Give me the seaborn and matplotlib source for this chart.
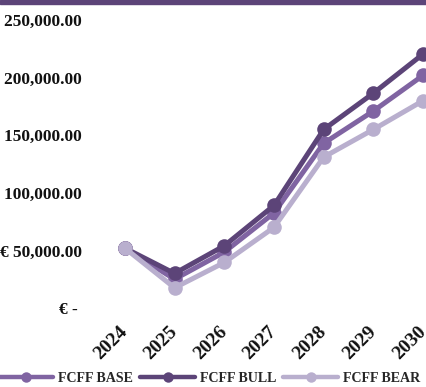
import matplotlib
matplotlib.use("Agg")
import matplotlib.pyplot as plt
import seaborn as sns
import pandas as pd
from matplotlib.lines import Line2D
from matplotlib.patches import Rectangle
from matplotlib.ticker import FuncFormatter

# Free cash flow to firm by scenario (EUR)
years = ["2024", "2025", "2026", "2027", "2028", "2029", "2030"]
fcff_base = [52000, 25000, 48500, 82500, 143000, 171000, 202000]
fcff_bull = [52000, 30000, 54000, 89000, 155000, 186500, 220500]
fcff_bear = [52000, 17500, 39500, 70000, 131000, 155000, 180000]
scenarios = ["FCFF BASE", "FCFF BULL", "FCFF BEAR"]
colors = ["#8064A2", "#5C4478", "#B9AFCE"]

df = pd.DataFrame({
    "Year": years * 3,
    "FCFF": fcff_base + fcff_bull + fcff_bear,
    "Scenario": [s for s in scenarios for _ in years],
})

sns.set_theme(style="white")
plt.rcParams["font.family"] = ["Liberation Serif", "DejaVu Serif"]
plt.rcParams["font.weight"] = "bold"

W, H = 427, 387
fig = plt.figure(figsize=(W / 100, H / 100), dpi=100)
ax = fig.add_axes([100 / W, 79 / H, 348 / W, 288 / H])

sns.lineplot(data=df, x="Year", y="FCFF", hue="Scenario", hue_order=scenarios,
             palette=colors, marker="o", markersize=10.5, markeredgewidth=0,
             linewidth=3.6, sort=False, legend=False, ax=ax)

ax.set_xlim(-0.5, len(years) - 0.5)
ax.set_ylim(0, 250000)
ax.set_yticks(range(0, 250001, 50000))


def euro(v, _pos):
    if v == 0:
        return "€ - "
    return f"€ {v:,.2f}"


ax.yaxis.set_major_formatter(FuncFormatter(euro))
ax.set_xlabel("")
ax.set_ylabel("")
for s in ax.spines.values():
    s.set_visible(False)
ax.grid(False)
ax.tick_params(axis="y", length=0, pad=13, labelsize=12.5, labelcolor="#111111")
ax.tick_params(axis="x", length=0, pad=15, labelsize=14, labelcolor="#111111")
for lbl in ax.get_xticklabels():
    lbl.set_rotation(45)
    lbl.set_ha("right")
    lbl.set_va("center")
    lbl.set_rotation_mode("anchor")

handles = [Line2D([0], [0], color=c, linewidth=3.2, marker="o", markersize=7.5,
                  markeredgewidth=0) for c in colors]
fig.legend(handles, scenarios, loc="center left", bbox_to_anchor=(-0.003, 9 / H),
           ncol=3, frameon=False, borderaxespad=0, borderpad=0,
           handlelength=3.9, handletextpad=0.35, columnspacing=0.5,
           prop={"size": 10.1, "weight": "bold"})

fig.patches.append(Rectangle((0, 1 - 3.5 / H), 1, 3.5 / H, transform=fig.transFigure,
                             color="#5C4478", zorder=10))

fig.savefig("out.png", dpi=100)
